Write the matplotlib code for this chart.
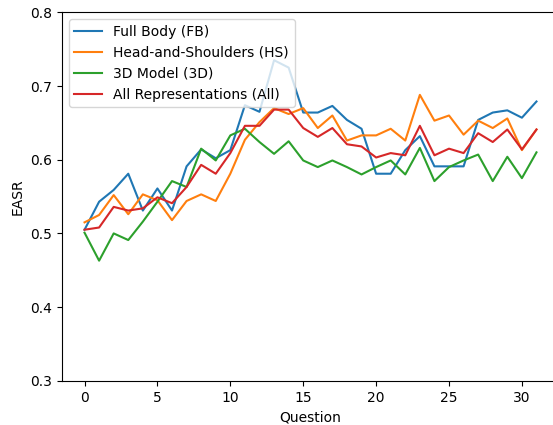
import numpy as np
import matplotlib
matplotlib.use('Agg')
import matplotlib.pyplot as plt

# EASR por pregunta, cuatro representaciones
questions = np.arange(32)

fb = [0.505, 0.543, 0.559, 0.581, 0.531, 0.561, 0.531, 0.591, 0.614, 0.602,
      0.613, 0.674, 0.665, 0.735, 0.725, 0.664, 0.664, 0.673, 0.654, 0.642,
      0.581, 0.581, 0.613, 0.632, 0.591, 0.591, 0.591, 0.654, 0.664, 0.667,
      0.657, 0.679]
hs = [0.515, 0.525, 0.552, 0.526, 0.553, 0.545, 0.518, 0.544, 0.553, 0.544,
      0.581, 0.627, 0.651, 0.670, 0.662, 0.670, 0.643, 0.660, 0.626, 0.633,
      0.633, 0.642, 0.626, 0.688, 0.653, 0.660, 0.634, 0.653, 0.643, 0.656,
      0.613, 0.641]
m3d = [0.501, 0.463, 0.500, 0.491, 0.516, 0.543, 0.571, 0.563, 0.615, 0.599,
       0.633, 0.642, 0.624, 0.608, 0.625, 0.599, 0.590, 0.599, 0.590, 0.580,
       0.590, 0.599, 0.580, 0.616, 0.571, 0.590, 0.599, 0.607, 0.571, 0.604,
       0.575, 0.610]
allr = [0.505, 0.508, 0.536, 0.531, 0.534, 0.549, 0.541, 0.563, 0.593, 0.581,
        0.609, 0.646, 0.646, 0.668, 0.668, 0.643, 0.631, 0.643, 0.621, 0.618,
        0.603, 0.609, 0.606, 0.646, 0.606, 0.615, 0.609, 0.636, 0.624, 0.641,
        0.614, 0.641]

series = [
    (fb, 'Full Body (FB)'),
    (hs, 'Head-and-Shoulders (HS)'),
    (m3d, '3D Model (3D)'),
    (allr, 'All Representations (All)'),
]

fig, ax = plt.subplots(figsize=(5.53, 4.25), dpi=100)
for vals, label in series:
    ax.plot(questions, vals, label=label)

ax.set_ylim(0.3, 0.8)
ax.set_xlabel('Question')
ax.set_ylabel('EASR')
ax.legend(loc='upper left')

# el eje se sale un poco por la derecha, como en la original
fig.subplots_adjust(left=0.112, right=1.011, top=0.971, bottom=0.104)
fig.savefig('out.png', dpi=100)
